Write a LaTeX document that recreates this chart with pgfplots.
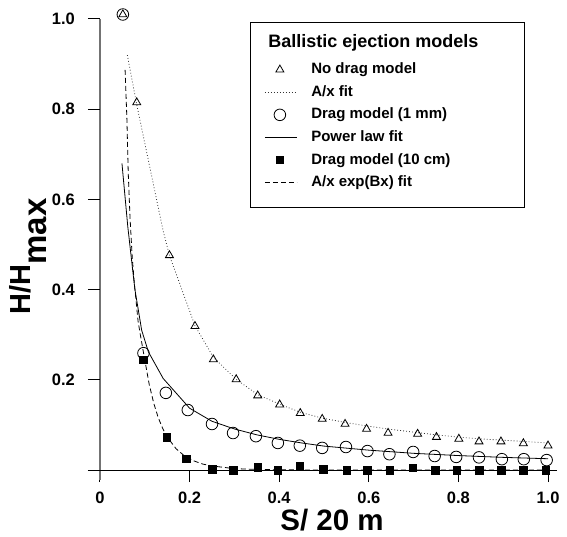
\documentclass[border=0pt]{standalone}
\usepackage{pgfplots}
\pgfplotsset{compat=1.18}
\usepackage{fontspec}
\setmainfont{Liberation Sans}
\pgfplotsset{
  legmark/.style={legend image code/.code={\draw[##1] plot coordinates {(15pt,0pt)};}},
  legline/.style={legend image code/.code={\draw[##1] (0pt,0pt) -- (32pt,0pt);}},
}
\begin{document}
\begin{tikzpicture}
\begin{axis}[
  at={(0pt,0pt)}, anchor=south west,
  scale only axis, width=448pt, height=451pt,
  xmin=0, xmax=1, ymin=0, ymax=1,
  clip=false,
  axis lines*=left,
  x axis line style={-, black, line width=0.9pt},
  y axis line style={-, black!55, line width=2pt},
  xtick pos=lower, ytick pos=left,
  tick align=outside, major tick length=12pt,
  every tick/.style={draw=black, line width=1pt},
  major tick style={draw=black, line width=1pt},
  xtick={0,0.2,0.4,0.6,0.8,1.0},
  xticklabels={0,0.2,0.4,0.6,0.8,1.0},
  ytick={0,0.2,0.4,0.6,0.8,1.0},
  yticklabels={,0.2,0.4,0.6,0.8,1.0},
  ticklabel style={font=\fontsize{16.5}{18}\selectfont\bfseries, inner sep=0pt},
  xticklabel style={yshift=-10pt},
  yticklabel style={xshift=-13pt},
  every axis x label/.style={at={(rel axis cs:0.518,0)}, yshift=-60pt, anchor=base, font=\fontsize{29.5}{32}\selectfont\bfseries},
  every axis y label/.style={at={(rel axis cs:0,0.4734)}, xshift=-69pt, rotate=90, anchor=base, font=\fontsize{29}{32}\selectfont\bfseries},
  xlabel={S/ 20 m},
  ylabel={H/H\raisebox{-15.7pt}{\fontsize{33}{36}\selectfont max}},
  legend style={at={(rel axis cs:0.335,0.993)}, anchor=north west, draw=black, line width=0.8pt,
    inner xsep=14pt, inner ysep=16.5pt, row sep=6.6pt, column sep=14pt,
    font=\fontsize{15}{18}\selectfont\bfseries,
    nodes={inner sep=0pt, text height=12pt, text depth=4pt}},
  legend cell align=left,
]
\addlegendimage{empty legend}
\addlegendentry{\hspace*{-43pt}\raisebox{3.4pt}{\fontsize{18}{20}\selectfont Ballistic ejection models}\kern32pt\mbox{}}

% No drag model
\addplot[only marks, mark=triangle, mark size=4.6pt, mark options={line width=0.8pt, black}, legmark]
coordinates {
(0.051,1.01) (0.082,0.815) (0.155,0.476) (0.212,0.319) (0.253,0.245) (0.304,0.201)
(0.352,0.165) (0.401,0.145) (0.447,0.126) (0.496,0.113) (0.547,0.102) (0.595,0.091)
(0.643,0.082) (0.709,0.080) (0.751,0.073) (0.801,0.069) (0.846,0.063) (0.895,0.063)
(0.945,0.059) (1.0,0.054)
};
\addlegendentry{No drag model}

% A/x fit
\addplot[black!80, line width=0.8pt, dash pattern=on 0.8pt off 2.2pt, legline]
coordinates {
(0.061,0.92) (0.082,0.81) (0.141,0.53) (0.155,0.476) (0.212,0.32) (0.253,0.25)
(0.304,0.201) (0.352,0.167) (0.401,0.146) (0.447,0.128) (0.496,0.115) (0.55,0.105)
(0.6,0.097) (0.65,0.090) (0.7,0.084) (0.75,0.078) (0.8,0.073) (0.85,0.069)
(0.9,0.066) (0.95,0.063) (1.0,0.060)
};
\addlegendentry{A/x fit}

% Drag model 1 mm
\addplot[only marks, mark=o, mark size=5.8pt, mark options={line width=0.8pt, black}, legmark]
coordinates {
(0.051,1.01) (0.097,0.259) (0.147,0.171) (0.196,0.133) (0.25,0.102) (0.297,0.082)
(0.348,0.075) (0.397,0.060) (0.446,0.054) (0.496,0.049) (0.549,0.051) (0.597,0.042)
(0.646,0.035) (0.699,0.040) (0.747,0.031) (0.795,0.029) (0.846,0.028) (0.897,0.024)
(0.946,0.024) (0.997,0.022)
};
\addlegendentry{Drag model (1 mm)}

% Power law fit
\addplot[black, line width=0.8pt, legline]
coordinates {
(0.049,0.68) (0.062,0.54) (0.073,0.443) (0.078,0.40) (0.093,0.31) (0.108,0.262)
(0.141,0.203) (0.20,0.137) (0.25,0.108) (0.30,0.091) (0.35,0.078) (0.40,0.068)
(0.45,0.060) (0.50,0.053) (0.60,0.044) (0.70,0.037) (0.80,0.032) (0.90,0.028)
(1.0,0.025)
};
\addlegendentry{Power law fit}

% Drag model 10 cm
\addplot[only marks, mark=square*, mark size=3.8pt, mark options={black}, legmark]
coordinates {
(0.097,0.245) (0.149,0.073) (0.192,0.025) (0.25,0.002) (0.297,0.0) (0.352,0.006)
(0.397,0.0) (0.446,0.0095) (0.498,0.002) (0.551,0.0) (0.597,0.0) (0.647,0.0)
(0.698,0.005) (0.748,0.0) (0.796,0.0) (0.846,0.0) (0.895,0.0) (0.945,0.0) (0.995,0.0)
};
\addlegendentry{Drag model (10 cm)}

% A/x exp(Bx) fit
\addplot[black, line width=0.8pt, dash pattern=on 5pt off 3pt, legline]
coordinates {
(0.056,0.887) (0.060,0.78) (0.063,0.66) (0.067,0.56) (0.072,0.47) (0.077,0.41)
(0.085,0.33) (0.09,0.300) (0.1,0.244) (0.11,0.189) (0.12,0.148) (0.13,0.116)
(0.14,0.092) (0.15,0.073) (0.17,0.047) (0.19,0.030) (0.21,0.020) (0.23,0.013)
(0.25,0.009) (0.30,0.003) (0.35,0.0013) (0.40,0.0005) (0.5,0.0) (0.75,0.0) (1.0,0.0)
};
\addlegendentry{A/x exp(Bx) fit}
\end{axis}
% axis frame extensions and tick marks (axis box: 448pt x 451pt, origin at its south-west corner)
\draw[black!55, line width=2pt] (0pt,-10pt) -- (0pt,451pt);
\draw[black, line width=0.9pt] (-12pt,0pt) -- (457pt,0pt);
\foreach \tx in {89.6,179.2,268.8,358.4,448} {\draw[black, line width=1pt] (\tx pt,0pt) -- (\tx pt,-12pt);}
\foreach \ty in {90.2,180.4,270.6,360.8,451} {\draw[black, line width=1pt] (0pt,\ty pt) -- (-12pt,\ty pt);}
\pgfresetboundingbox
\useasboundingbox (-100pt,-66pt) rectangle (467pt,470pt);
\end{tikzpicture}
\end{document}
